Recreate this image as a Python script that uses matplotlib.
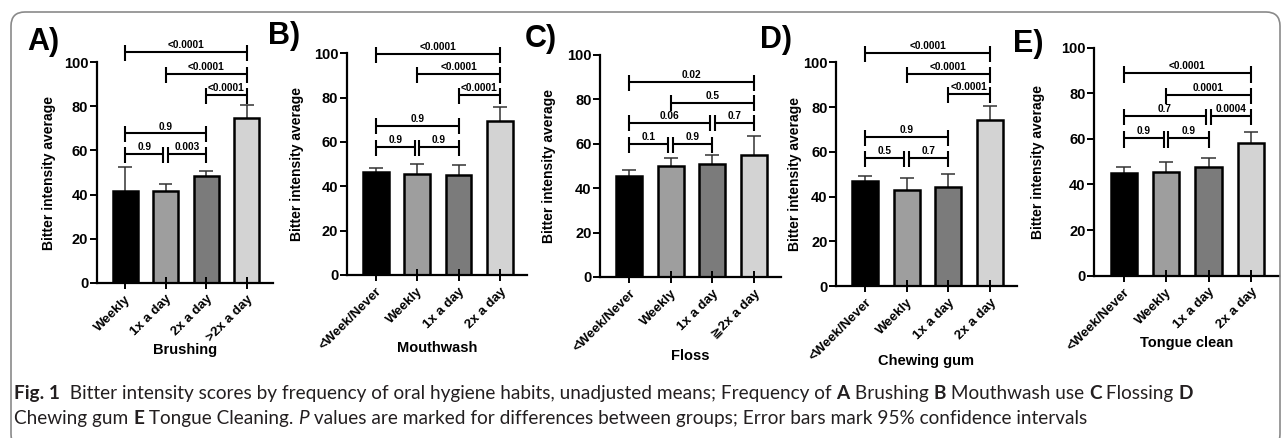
import numpy as np
import matplotlib
matplotlib.use('Agg')
import matplotlib.pyplot as plt
from matplotlib.patches import FancyBboxPatch
from matplotlib.transforms import IdentityTransform

plt.rcParams['font.family'] = ['Liberation Sans', 'DejaVu Sans']

# ---- data ----
cats_a = ['Weekly', '1x a day', '2x a day', '>2x a day']
cats_b = ['<Week/Never', 'Weekly', '1x a day', '2x a day']
cats_c = ['<Week/Never', 'Weekly', '1x a day', '\u22672x a day']
cats_d = ['<Week/Never', 'Weekly', '1x a day', '2x a day']
cats_e = ['<Week/Never', 'Weekly', '1x a day', '2x a day']

mean_a = [41.5, 41.7, 48.5, 74.8]
mean_b = [46.3, 45.6, 45.1, 69.6]
mean_c = [45.2, 49.7, 50.9, 54.9]
mean_d = [47.1, 42.9, 44.4, 74.2]
mean_e = [45.2, 45.5, 47.7, 58.2]

# upper end of the 95% CI
ci_a = [52.6, 45.0, 50.8, 80.4]
ci_b = [48.4, 50.2, 49.6, 75.9]
ci_c = [48.1, 53.3, 54.9, 63.3]
ci_d = [49.2, 48.4, 49.9, 80.6]
ci_e = [47.8, 49.9, 51.5, 62.9]

# group comparisons and p values
pairs_a = [(0, 3), (1, 3), (2, 3), (0, 2), (0, 1), (1, 2)]
pvals_a = ['<0.0001', '<0.0001', '<0.0001', '0.9', '0.9', '0.003']
pairs_b = [(0, 3), (1, 3), (2, 3), (0, 2), (0, 1), (1, 2)]
pvals_b = ['<0.0001', '<0.0001', '<0.0001', '0.9', '0.9', '0.9']
pairs_c = [(0, 3), (1, 3), (0, 2), (2, 3), (0, 1), (1, 2)]
pvals_c = ['0.02', '0.5', '0.06', '0.7', '0.1', '0.9']
pairs_d = [(0, 3), (1, 3), (2, 3), (0, 2), (0, 1), (1, 2)]
pvals_d = ['<0.0001', '<0.0001', '<0.0001', '0.9', '0.5', '0.7']
pairs_e = [(0, 3), (1, 3), (0, 2), (2, 3), (0, 1), (1, 2)]
pvals_e = ['<0.0001', '0.0001', '0.7', '0.0004', '0.9', '0.9']

xlabels = ['Brushing', 'Mouthwash', 'Floss', 'Chewing gum', 'Tongue clean']
letters = ['A)', 'B)', 'C)', 'D)', 'E)']

# ---- layout (pixels) ----
W, H = 1287, 438
# left, right, y of 100, y of 0
boxes = [(96.7, 273, 62.3, 282.7),
         (346.7, 527, 53.3, 275),
         (600, 781, 54.5, 277),
         (836, 1017, 62.3, 286),
         (1094, 1278.5, 47.7, 275.7)]
bracket_y = [[104.6, 94.6, 85.1, 67.7, 58.2, 58.2],
             [99.7, 90.5, 81.2, 67.4, 57.9, 57.9],
             [87.6, 78.4, 69.4, 69.4, 59.6, 59.6],
             [104.3, 94.6, 85.7, 66.5, 57.2, 57.2],
             [88.7, 79.1, 70.0, 70.0, 60.2, 60.2]]
ylab_off = [41, 43, 44, 34, 49]
xlab_y = [350, 348, 356, 361, 343]
letter_pos = [(27, 50), (268, 44), (525, 47), (760, 48), (1013, 52)]

bar_colors = ['#000000', '#9e9e9e', '#7b7b7b', '#d3d3d3']

fig = plt.figure(figsize=(W / 100, H / 100), dpi=100)


def draw_panel(box, cats, means, ci, pairs, pvals, levels, xlabel, ylo, xly):
    l, r, t, b = box
    ax = fig.add_axes([l / W, 1 - b / H, (r - l) / W, (b - t) / H])
    x = np.arange(len(cats))
    ax.vlines(x, means, ci, color='#333333', lw=1.1, zorder=0.9)
    ax.hlines(ci, x - 0.17, x + 0.17, color='#333333', lw=1.1, zorder=0.9)
    ax.bar(x, means, width=0.62, color=bar_colors, edgecolor='black', linewidth=1.8, zorder=1)
    ax.set_xlim(-0.7, 3.65)
    ax.set_ylim(0, 100)
    ax.set_yticks([0, 20, 40, 60, 80, 100])
    ax.set_xticks(x)
    ax.set_xticklabels(cats, rotation=45, ha='right', rotation_mode='anchor',
                       fontsize=9.5, fontweight='bold')
    for lab in ax.get_yticklabels():
        lab.set_fontweight('bold')
        lab.set_fontsize(10.5)
    ax.tick_params(axis='y', direction='out', length=5, width=1.4, pad=1)
    ax.tick_params(axis='x', direction='inout', length=9, width=1.4, pad=3)
    for s in ['top', 'right']:
        ax.spines[s].set_visible(False)
    for s in ['left', 'bottom']:
        ax.spines[s].set_linewidth(1.6)
    ax.set_ylabel('Bitter intensity average', fontsize=10, fontweight='bold')
    ax.yaxis.set_label_coords(-ylo / (r - l), 0.5)
    ax.set_xlabel(xlabel, fontsize=10.5, fontweight='bold', va='center')
    ax.xaxis.set_label_coords(0.5, -(xly - b) / (b - t))

    # significance brackets
    for k, ((i, j), p, yy) in enumerate(zip(pairs, pvals, levels)):
        x0, x1 = float(i), float(j)
        for m, ((i2, j2), yy2) in enumerate(zip(pairs, levels)):
            if m == k or abs(yy2 - yy) > 0.5:
                continue
            if j2 == i:
                x0 += 0.055
            if i2 == j:
                x1 -= 0.055
        ax.plot([x0, x1], [yy, yy], color='black', lw=1.5, clip_on=False, zorder=3,
                solid_capstyle='butt')
        for xx in (x0, x1):
            ax.plot([xx, xx], [yy - 4.0, yy + 3.2], color='black', lw=1.5,
                    clip_on=False, zorder=3, solid_capstyle='butt')
        ax.text((x0 + x1) / 2, yy + 0.9, p, ha='center', va='bottom', fontsize=7.3,
                fontweight='bold', clip_on=False)
    return ax


panels = [(cats_a, mean_a, ci_a, pairs_a, pvals_a),
          (cats_b, mean_b, ci_b, pairs_b, pvals_b),
          (cats_c, mean_c, ci_c, pairs_c, pvals_c),
          (cats_d, mean_d, ci_d, pairs_d, pvals_d),
          (cats_e, mean_e, ci_e, pairs_e, pvals_e)]

for n, (cats, means, ci, pairs, pvals) in enumerate(panels):
    draw_panel(boxes[n], cats, means, ci, pairs, pvals, bracket_y[n], xlabels[n],
               ylab_off[n], xlab_y[n])
    lx, ly = letter_pos[n]
    fig.text(lx / W, 1 - ly / H, letters[n], fontsize=22, fontweight='bold', va='baseline')

# rounded frame
frame = FancyBboxPatch((11, -10), 1269, 426 + 10, boxstyle='round,pad=0,rounding_size=14',
                       transform=IdentityTransform(), facecolor='none',
                       edgecolor='#8a8a8a', lw=1.2)
fig.patches.append(frame)

# caption
cap_font = ['Lato', 'DejaVu Sans']
cap_size = 13.7
cap_color = '#231f20'
line1 = [('Fig. 1', 'bold'), ('  Bitter intensity scores by frequency of oral hygiene habits, '
                               'unadjusted means; Frequency of ', 'normal'),
         ('A', 'bold'), (' Brushing ', 'normal'), ('B', 'bold'), (' Mouthwash use ', 'normal'),
         ('C', 'bold'), (' Flossing ', 'normal'), ('D', 'bold')]
line2 = [('Chewing gum ', 'normal'), ('E', 'bold'), (' Tongue Cleaning. ', 'normal'),
         ('P', 'italic'), (' values are marked for differences between groups; '
                           'Error bars mark 95% confidence intervals', 'normal')]

renderer = fig.canvas.get_renderer()


def write_runs(x_px, y_px, runs):
    x = x_px
    for s, style in runs:
        kw = dict(fontweight='bold') if style == 'bold' else {}
        if style == 'italic':
            kw = dict(fontstyle='italic')
        t = fig.text(x / W, 1 - y_px / H, s, fontsize=cap_size, family=cap_font,
                     color=cap_color, va='baseline', **kw)
        x += t.get_window_extent(renderer=renderer).width


write_runs(14, 399, line1)
write_runs(14, 424, line2)

fig.savefig('out.png', dpi=100)
